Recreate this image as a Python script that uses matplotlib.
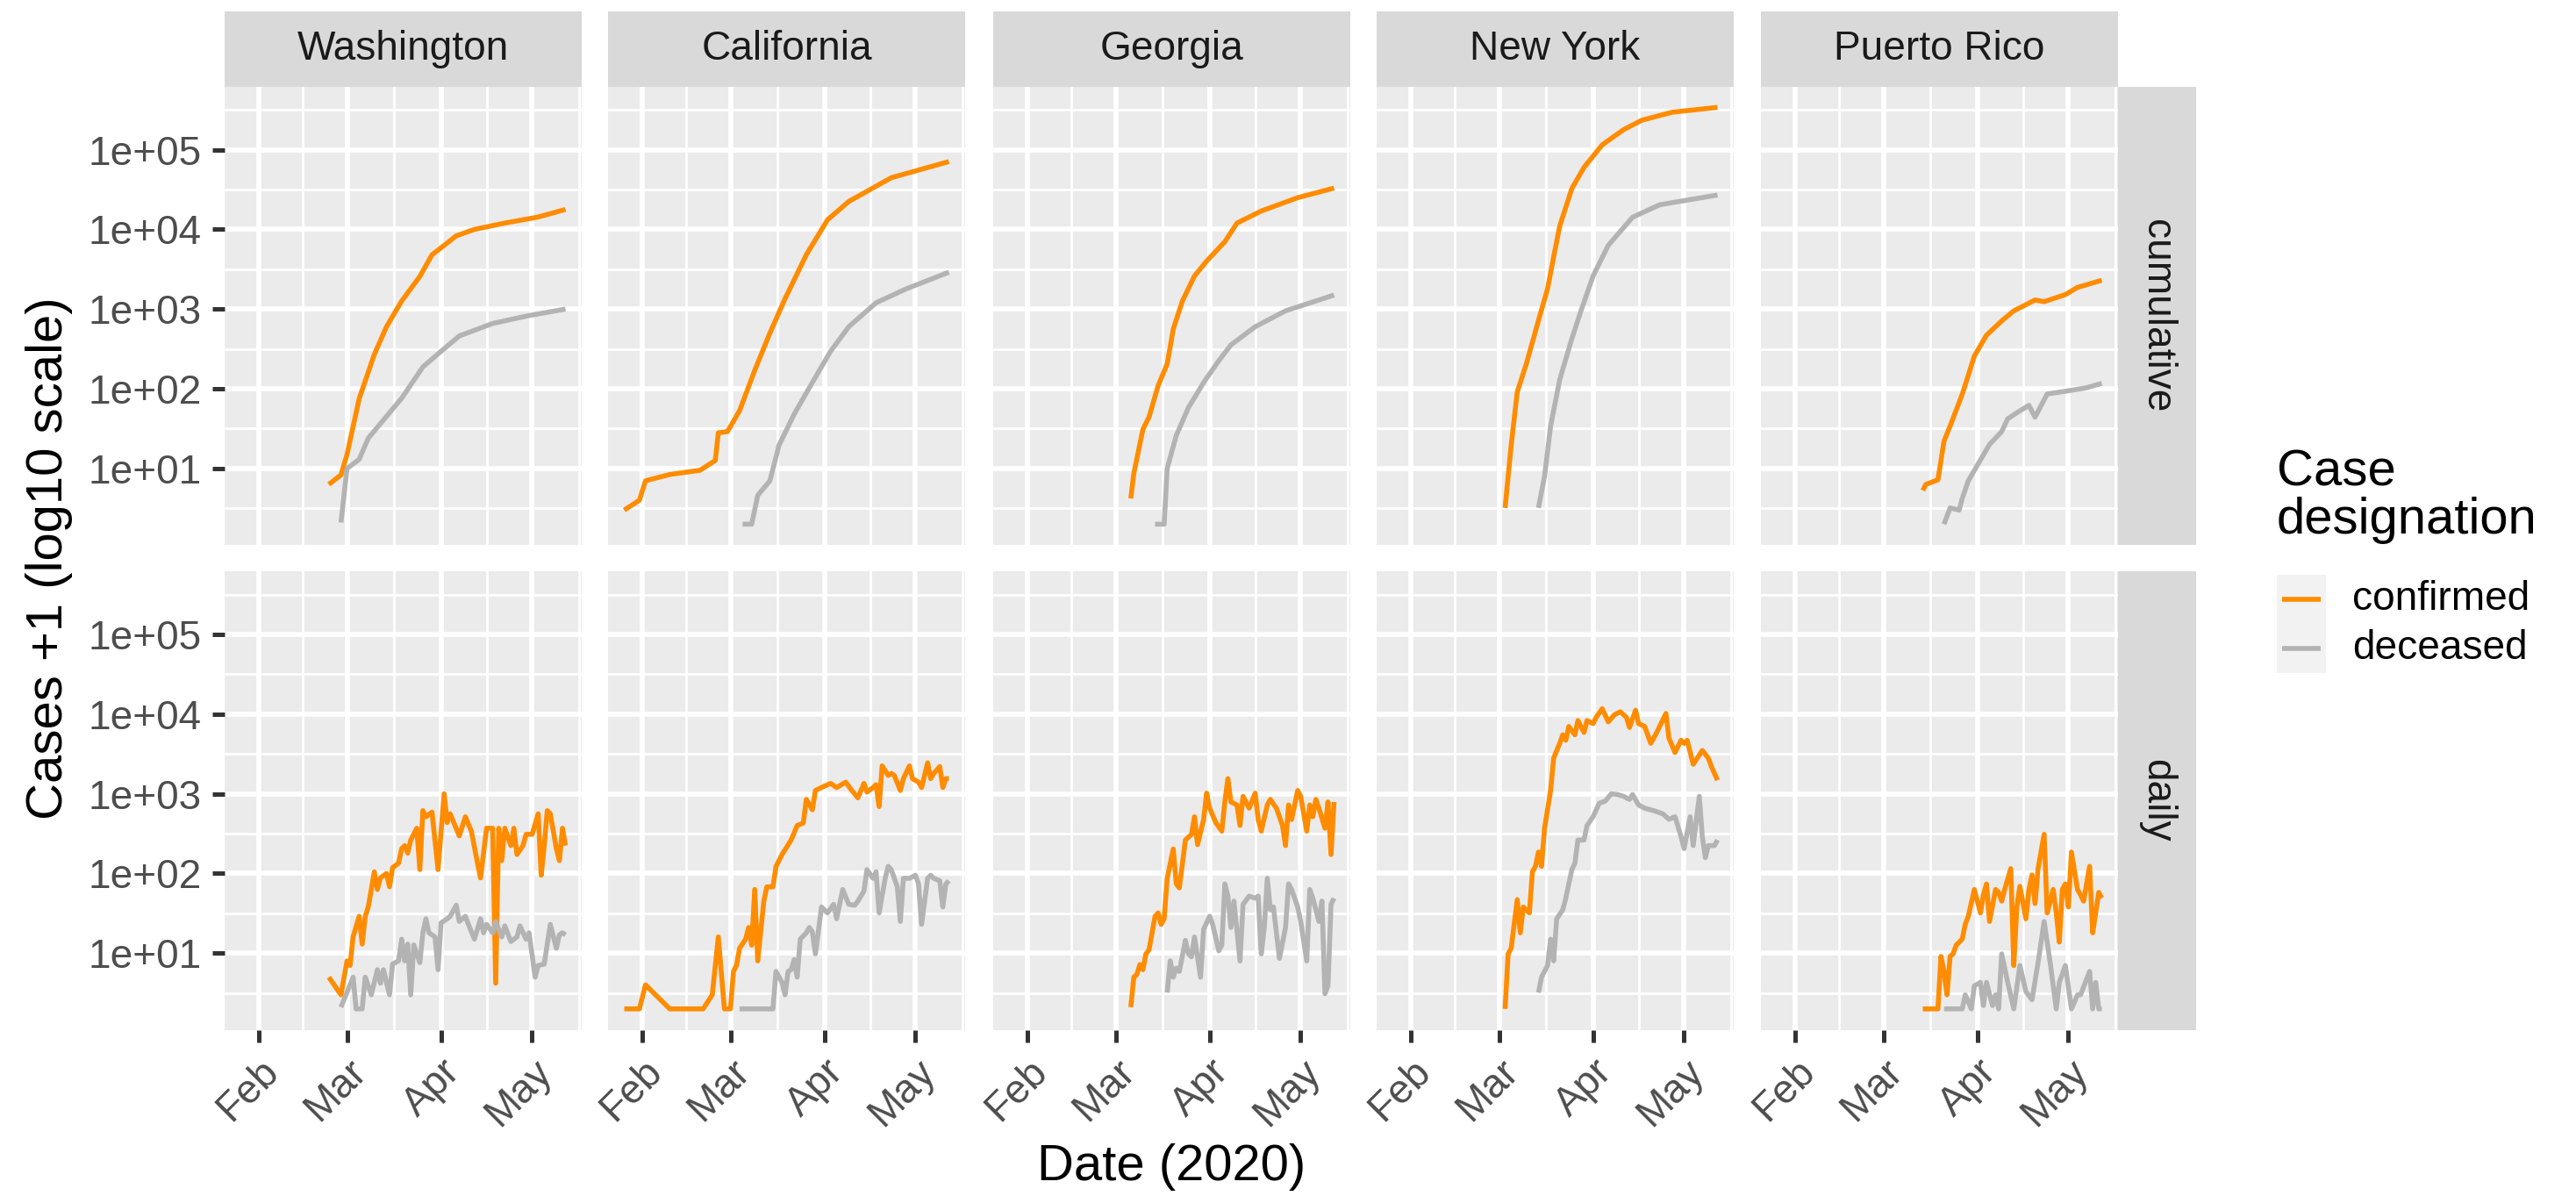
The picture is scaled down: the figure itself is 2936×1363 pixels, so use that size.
import matplotlib
matplotlib.use('Agg')
import matplotlib.pyplot as plt
import matplotlib.dates as mdates
from matplotlib.patches import Rectangle
from matplotlib.ticker import FixedLocator, FixedFormatter, NullFormatter
import numpy as np

plt.rcParams['font.family'] = ['Liberation Sans', 'DejaVu Sans']

# day numbers are days since 2020-01-01, values are cases + 1
STATES = ['Washington', 'California', 'Georgia', 'New York', 'Puerto Rico']
MEASURES = ['cumulative', 'daily']
DESIGNATIONS = ['confirmed', 'deceased']

# --- cumulative ---
WA_CUM_CONF_DAY = [54, 58, 60, 64, 69, 73, 78, 84, 88, 92, 96, 102, 112, 123, 132]
WA_CUM_CONF = [6.3, 8.3, 15, 75, 270, 600, 1260, 2570, 4800, 6300, 8300, 10000, 12000, 14300, 17800]
WA_CUM_DEC_DAY = [58, 60, 64, 67, 73, 78, 85, 91, 97, 108, 120, 132]
WA_CUM_DEC = [2.1, 10, 13, 24, 45, 76, 188, 295, 460, 660, 830, 1000]

CA_CUM_CONF_DAY = [25, 30, 32, 40, 50, 55, 56, 59, 63, 68, 73, 78, 85, 92, 99, 113, 132]
CA_CUM_CONF = [3, 4, 7, 8.4, 9.5, 12.6, 28, 29, 53, 170, 500, 1350, 4800, 13200, 22400, 44500, 71000]
CA_CUM_DEC_DAY = [64, 67, 69, 73, 76, 81, 87, 93, 99, 108, 118, 132]
CA_CUM_DEC = [2, 2, 4.6, 7, 19.5, 48, 120, 295, 600, 1200, 1800, 2900]

GA_CUM_CONF_DAY = [65, 66, 69, 71, 74, 77, 79, 82, 86, 90, 96, 100, 108, 120, 132]
GA_CUM_CONF = [4.2, 8.7, 31, 44, 109, 205, 560, 1260, 2600, 4000, 7000, 12000, 17000, 25000, 33000]
GA_CUM_DEC_DAY = [73, 76, 77, 80, 84, 89, 94, 98, 106, 116, 132]
GA_CUM_DEC = [2, 2, 10, 26, 58, 120, 225, 355, 600, 950, 1500]

NY_CUM_CONF_DAY = [62, 64, 66, 69, 73, 76, 78, 80, 84, 88, 94, 101, 107, 117, 132]
NY_CUM_CONF = [3.2, 19.5, 91, 205, 720, 1800, 4500, 11000, 32600, 60000, 115000, 178000, 234000, 295000, 340000]
NY_CUM_DEC_DAY = [73, 75, 77, 80, 84, 87, 91, 96, 104, 113, 132]
NY_CUM_DEC = [3.2, 8, 34, 130, 425, 950, 2600, 6300, 14200, 20400, 27000]

PR_CUM_CONF_DAY = [73, 74, 78, 80, 82, 86, 90, 94, 99, 103, 110, 113, 120, 124, 132]
PR_CUM_CONF = [5.3, 6.3, 7.2, 22, 34, 85, 257, 470, 710, 950, 1300, 1240, 1520, 1870, 2300]
PR_CUM_DEC_DAY = [80, 82, 85, 86, 88, 91, 95, 99, 101, 104, 108, 110, 114, 120, 127, 132]
PR_CUM_DEC = [2, 3.2, 3, 4.2, 7, 11, 20, 29, 42, 50, 62, 44, 86, 93, 103, 117]

# --- daily ---
WA_DAY_CONF_DAY = [54, 58, 60, 61, 62, 64, 65, 66, 67, 69, 70, 71, 73, 74, 75, 77, 78, 79, 80, 81,
                   83, 84, 85, 86, 88, 90, 92, 93, 94, 97, 99, 101, 103, 104, 106, 108, 109, 110,
                   111, 112, 114, 115, 116, 118, 119, 121, 123, 124, 125, 126, 127, 129, 130, 131, 132]
WA_DAY_CONF = [5, 3, 8, 7, 16, 29, 13, 29, 38, 105, 63, 88, 100, 68, 118, 135, 205, 224, 180, 263,
               370, 112, 615, 515, 590, 112, 1000, 436, 560, 296, 515, 337, 135, 88, 370, 370, 4.2, 370,
               145, 370, 224, 370, 173, 224, 310, 310, 560, 95, 224, 615, 560, 205, 145, 370, 224]
WA_DAY_DEC_DAY = [58, 62, 63, 65, 66, 67, 68, 70, 71, 72, 74, 75, 77, 78, 79, 80, 81, 82, 84, 85,
                  86, 87, 89, 90, 91, 93, 94, 96, 97, 99, 100, 102, 104, 105, 106, 108, 109, 111,
                  112, 114, 116, 117, 119, 120, 122, 123, 125, 127, 129, 130, 131, 132]
WA_DAY_DEC = [2.1, 5, 2, 2, 5, 3.9, 3, 6.2, 4.2, 6.2, 3, 7.3, 8, 15, 8, 13, 3, 12.7, 7.6, 18,
              27, 18, 16, 6.2, 24, 27, 29, 40, 25, 29, 23, 15, 27, 18, 23, 18, 25, 16,
              22, 14, 16, 22, 15, 18, 5, 7, 7.3, 23, 11.5, 17, 18, 17]

CA_DAY_CONF_DAY = [25, 30, 32, 40, 51, 54, 56, 58, 60, 61, 62, 63, 65, 66, 67, 68, 69, 71, 72, 74,
                   75, 77, 80, 82, 84, 85, 87, 88, 90, 93, 95, 98, 100, 102, 104, 105, 107, 108,
                   109, 110, 112, 113, 114, 116, 117, 119, 120, 122, 123, 125, 126, 127, 129, 130,
                   131, 132]
CA_DAY_CONF = [2, 2, 4, 2, 2, 3, 16, 2, 2, 5.9, 7, 11.5, 15, 21, 12.6, 63, 8, 45, 68, 68,
               122, 173, 263, 400, 430, 850, 630, 1100, 1200, 1350, 1200, 1400, 1100, 890, 1350, 1050,
               1200, 1300, 690, 2240, 1700, 1800, 1700, 1100, 1550, 2240, 1550, 1400, 1200, 2450,
               1550, 1800, 2200, 1200, 1550, 1550]
CA_DAY_DEC_DAY = [63, 74, 75, 77, 78, 79, 80, 81, 82, 83, 85, 86, 87, 88, 89, 90, 92, 94, 95, 97,
                  99, 101, 102, 104, 105, 107, 108, 109, 111, 112, 113, 115, 116, 117, 119, 121,
                  122, 123, 125, 126, 127, 129, 130, 131, 132]
CA_DAY_DEC = [2, 2, 5.9, 4.3, 3, 5.9, 6.2, 8.3, 5, 15, 18, 21, 18.5, 9.8, 19, 38, 32, 41, 27, 63,
              41, 40, 45, 60, 112, 87, 105, 32, 87, 123, 112, 68, 25, 87, 87, 95,
              74, 23, 87, 95, 87, 81, 38, 74, 81]

GA_DAY_CONF_DAY = [65, 66, 67, 68, 69, 70, 71, 73, 74, 75, 76, 77, 79, 80, 81, 83, 85, 86, 87, 89,
                   90, 91, 93, 95, 96, 97, 98, 100, 101, 102, 104, 106, 107, 108, 110, 111, 113,
                   115, 116, 117, 118, 120, 121, 123, 124, 125, 126, 127, 129, 130, 131, 132]
GA_DAY_CONF = [2.1, 5, 5.4, 7.2, 6.2, 9.8, 11, 29, 32, 23, 27, 87, 203, 74, 66, 263, 310, 515, 230, 475,
               1020, 660, 436, 340, 790, 1550, 790, 725, 400, 930, 660, 1020, 475, 340, 725, 850, 660,
               400, 224, 725, 475, 1100, 930, 340, 725, 515, 850, 660, 370, 790, 173, 790]
GA_DAY_DEC_DAY = [77, 78, 79, 80, 81, 83, 84, 85, 86, 88, 89, 91, 92, 94, 95, 96, 97, 98, 99, 101,
                  102, 104, 106, 107, 108, 109, 110, 111, 112, 114, 116, 117, 118, 120, 121, 123,
                  124, 125, 127, 128, 129, 130, 131, 132]
GA_DAY_DEC = [3.2, 8, 5, 6.5, 5.9, 14.5, 9.8, 9, 16, 5, 20, 29, 23, 10.7, 12.6, 74, 52, 21, 45, 8,
              41, 52, 49, 52, 9.8, 21, 87, 35, 38, 8.6, 21, 74, 63, 38, 25, 8,
              63, 49, 25, 45, 3.1, 3.9, 41, 49]

NY_DAY_CONF_DAY = [62, 63, 64, 66, 67, 68, 70, 71, 72, 73, 74, 75, 77, 78, 80, 81, 82, 83, 85, 86,
                   88, 89, 91, 92, 94, 96, 98, 100, 102, 103, 105, 106, 108, 110, 112, 115, 116,
                   118, 120, 121, 122, 124, 127, 129, 130, 132]
NY_DAY_CONF = [2, 9.8, 11.5, 47, 18, 38, 32, 105, 123, 186, 123, 370, 1100, 2800, 4300, 5500, 4700,
               7000, 5500, 8300, 5900, 8300, 7600, 9100, 11700, 8000, 9800, 10700, 9100, 6800, 11200,
               7600, 7000, 4300, 5900, 10200, 5000, 3300, 4700, 4300, 4700, 2350, 3500, 2800, 2200, 1480]
NY_DAY_DEC_DAY = [73, 74, 76, 77, 78, 79, 81, 82, 84, 85, 86, 88, 89, 91, 93, 95, 97, 99, 101, 103,
                  104, 106, 108, 111, 114, 116, 118, 120, 121, 123, 124, 126, 127, 128, 129, 131, 132]
NY_DAY_DEC = [3.2, 5, 7, 15, 8, 27, 35, 49, 112, 134, 263, 263, 400, 515, 760, 810, 1000, 980, 930, 850,
              980, 725, 660, 615, 560, 480, 515, 290, 205, 515, 224, 930, 290, 158, 224, 224, 263]

PR_DAY_CONF_DAY = [73, 78, 79, 80, 81, 82, 83, 84, 86, 87, 88, 90, 92, 93, 94, 95, 97, 98, 99, 100,
                   102, 103, 104, 105, 107, 108, 109, 110, 111, 113, 114, 116, 117, 118, 119, 120,
                   121, 122, 124, 125, 126, 128, 129, 130, 131, 132]
PR_DAY_CONF = [2, 2, 9.1, 5.9, 3, 9.1, 9.8, 12.6, 15, 23, 29, 63, 32, 54, 74, 25, 63, 58, 45, 63,
               115, 7, 38, 69, 27, 63, 96, 42, 115, 310, 32, 63, 32, 13.8, 63, 74,
               38, 186, 63, 54, 45, 123, 18, 32, 58, 49]
PR_DAY_DEC_DAY = [80, 86, 87, 89, 90, 92, 93, 94, 96, 97, 98, 99, 101, 103, 105, 107, 109, 111, 113,
                  115, 117, 118, 120, 122, 124, 125, 128, 129, 130, 131, 132]
PR_DAY_DEC = [2, 2, 3, 2, 3.9, 4.3, 2.2, 4.3, 2.2, 3, 2, 9.8, 4.3, 2, 7, 3.3, 2.6, 7.6, 25,
              7.6, 2, 4.3, 7, 2, 3, 3, 5.9, 2, 4.3, 2, 2]

SERIES = {
    ('Washington', 'cumulative', 'confirmed'): (WA_CUM_CONF_DAY, WA_CUM_CONF),
    ('Washington', 'cumulative', 'deceased'): (WA_CUM_DEC_DAY, WA_CUM_DEC),
    ('Washington', 'daily', 'confirmed'): (WA_DAY_CONF_DAY, WA_DAY_CONF),
    ('Washington', 'daily', 'deceased'): (WA_DAY_DEC_DAY, WA_DAY_DEC),
    ('California', 'cumulative', 'confirmed'): (CA_CUM_CONF_DAY, CA_CUM_CONF),
    ('California', 'cumulative', 'deceased'): (CA_CUM_DEC_DAY, CA_CUM_DEC),
    ('California', 'daily', 'confirmed'): (CA_DAY_CONF_DAY, CA_DAY_CONF),
    ('California', 'daily', 'deceased'): (CA_DAY_DEC_DAY, CA_DAY_DEC),
    ('Georgia', 'cumulative', 'confirmed'): (GA_CUM_CONF_DAY, GA_CUM_CONF),
    ('Georgia', 'cumulative', 'deceased'): (GA_CUM_DEC_DAY, GA_CUM_DEC),
    ('Georgia', 'daily', 'confirmed'): (GA_DAY_CONF_DAY, GA_DAY_CONF),
    ('Georgia', 'daily', 'deceased'): (GA_DAY_DEC_DAY, GA_DAY_DEC),
    ('New York', 'cumulative', 'confirmed'): (NY_CUM_CONF_DAY, NY_CUM_CONF),
    ('New York', 'cumulative', 'deceased'): (NY_CUM_DEC_DAY, NY_CUM_DEC),
    ('New York', 'daily', 'confirmed'): (NY_DAY_CONF_DAY, NY_DAY_CONF),
    ('New York', 'daily', 'deceased'): (NY_DAY_DEC_DAY, NY_DAY_DEC),
    ('Puerto Rico', 'cumulative', 'confirmed'): (PR_CUM_CONF_DAY, PR_CUM_CONF),
    ('Puerto Rico', 'cumulative', 'deceased'): (PR_CUM_DEC_DAY, PR_CUM_DEC),
    ('Puerto Rico', 'daily', 'confirmed'): (PR_DAY_CONF_DAY, PR_DAY_CONF),
    ('Puerto Rico', 'daily', 'deceased'): (PR_DAY_DEC_DAY, PR_DAY_DEC),
}

Y_TICKS = [1e1, 1e2, 1e3, 1e4, 1e5]
Y_TICK_LABELS = ['1e+01', '1e+02', '1e+03', '1e+04', '1e+05']
MONTH_STARTS = ['2020-01-01', '2020-02-01', '2020-03-01', '2020-04-01', '2020-05-01', '2020-06-01']

LINE_COLORS = {'confirmed': '#FF8C00', 'deceased': '#B3B3B3'}

W, H = 2936, 1363
DPI = 200
PT = 72.0 / DPI  # pixels -> points

PANEL_LEFT = [256, 693, 1132, 1569, 2007]
PANEL_W = 407
PANEL_TOP = [98.6, 651]
PANEL_H = 522.5
STRIP_TOP = 13
STRIP_H = 85.6
RSTRIP_W = 89

AX_TEXT = 46 * PT
TITLE_TEXT = 58 * PT
BASE = np.datetime64('2020-01-01')


def to_dates(days):
    return BASE + np.asarray(days).astype('timedelta64[D]')


def px_rect(x0, y0, w, h):
    return [x0 / W, 1 - (y0 + h) / H, w / W, h / H]


fig = plt.figure(figsize=(W / DPI, H / DPI), dpi=DPI)
fig.patch.set_facecolor('white')

overlay = fig.add_axes([0, 0, 1, 1])
overlay.set_xlim(0, W)
overlay.set_ylim(H, 0)
overlay.axis('off')

axes = []
first = None
for r, measure in enumerate(MEASURES):
    for c, state in enumerate(STATES):
        ax = fig.add_axes(px_rect(PANEL_LEFT[c], PANEL_TOP[r], PANEL_W, PANEL_H),
                          sharex=first, sharey=first)
        if first is None:
            first = ax
        ax.set_yscale('log')
        ax.set_facecolor('#EBEBEB')
        for s in ax.spines.values():
            s.set_visible(False)
        for d in DESIGNATIONS:
            days, vals = SERIES[(state, measure, d)]
            ax.plot(to_dates(days), vals, color=LINE_COLORS[d], lw=5.6 * PT,
                    solid_joinstyle='round', solid_capstyle='butt')
        axes.append((r, c, ax))

# ticks and grid (shared tickers, set once)
month_nums = mdates.date2num(np.array(MONTH_STARTS, dtype='datetime64[D]'))
first.xaxis.set_major_locator(FixedLocator(month_nums[1:5]))
first.xaxis.set_major_formatter(mdates.DateFormatter('%b'))
first.xaxis.set_minor_locator(FixedLocator((month_nums[:-1] + month_nums[1:]) / 2))
first.xaxis.set_minor_formatter(NullFormatter())
first.yaxis.set_major_locator(FixedLocator(Y_TICKS))
first.yaxis.set_major_formatter(FixedFormatter(Y_TICK_LABELS))
first.yaxis.set_minor_locator(FixedLocator(10 ** (np.arange(0, 6) + 0.5)))
first.yaxis.set_minor_formatter(NullFormatter())

for r, c, ax in axes:
    ax.set_axisbelow(True)
    ax.grid(which='major', color='white', lw=5.6 * PT)
    ax.grid(which='minor', color='white', lw=2.8 * PT)
    ax.tick_params(which='major', length=14.4 * PT, width=5.0 * PT, color='#333333',
                   labelsize=AX_TEXT, labelcolor='#4D4D4D', pad=11.5 * PT,
                   left=(c == 0), bottom=(r == 1), labelleft=(c == 0), labelbottom=(r == 1))
    ax.tick_params(which='minor', length=0)
    if r == 1:
        for lab in ax.get_xticklabels():
            lab.set_rotation(45)
            lab.set_ha('right')
            lab.set_va('top')
            lab.set_rotation_mode('anchor')

# facet strips
for c, state in enumerate(STATES):
    overlay.add_patch(Rectangle((PANEL_LEFT[c], STRIP_TOP), PANEL_W, STRIP_H, color='#D9D9D9', lw=0))
    overlay.text(PANEL_LEFT[c] + PANEL_W / 2, STRIP_TOP + STRIP_H / 2, state, ha='center', va='center',
                 fontsize=AX_TEXT, color='#1A1A1A')
rx = PANEL_LEFT[-1] + PANEL_W
for r, measure in enumerate(MEASURES):
    overlay.add_patch(Rectangle((rx, PANEL_TOP[r]), RSTRIP_W, PANEL_H, color='#D9D9D9', lw=0))
    overlay.text(rx + RSTRIP_W / 2, PANEL_TOP[r] + PANEL_H / 2, measure, ha='center', va='center',
                 rotation=-90, fontsize=AX_TEXT, color='#1A1A1A')

# axis titles
overlay.text(1335, 1330, 'Date (2020)', ha='center', va='center', fontsize=TITLE_TEXT, color='black')
overlay.text(56, (PANEL_TOP[0] + PANEL_TOP[1] + PANEL_H) / 2, 'Cases +1 (log10 scale)', ha='center',
             va='center', rotation=90, fontsize=TITLE_TEXT, color='black')

# legend
leg_x = 2595
overlay.text(leg_x, 512, 'Case\ndesignation', ha='left', va='top', fontsize=TITLE_TEXT,
             color='black', linespacing=1.0)
key_top = 655
key_h = 56
for i, d in enumerate(DESIGNATIONS):
    y0 = key_top + i * key_h
    overlay.add_patch(Rectangle((leg_x, y0), 56, key_h, color='#F2F2F2', lw=0))
    overlay.plot([leg_x + 6, leg_x + 50], [y0 + key_h / 2, y0 + key_h / 2], color=LINE_COLORS[d],
                 lw=5.6 * PT, solid_capstyle='butt')
    overlay.text(leg_x + 86, y0 + key_h / 2, d, ha='left', va='center', fontsize=AX_TEXT, color='black')

fig.savefig('out.png', dpi=DPI)
